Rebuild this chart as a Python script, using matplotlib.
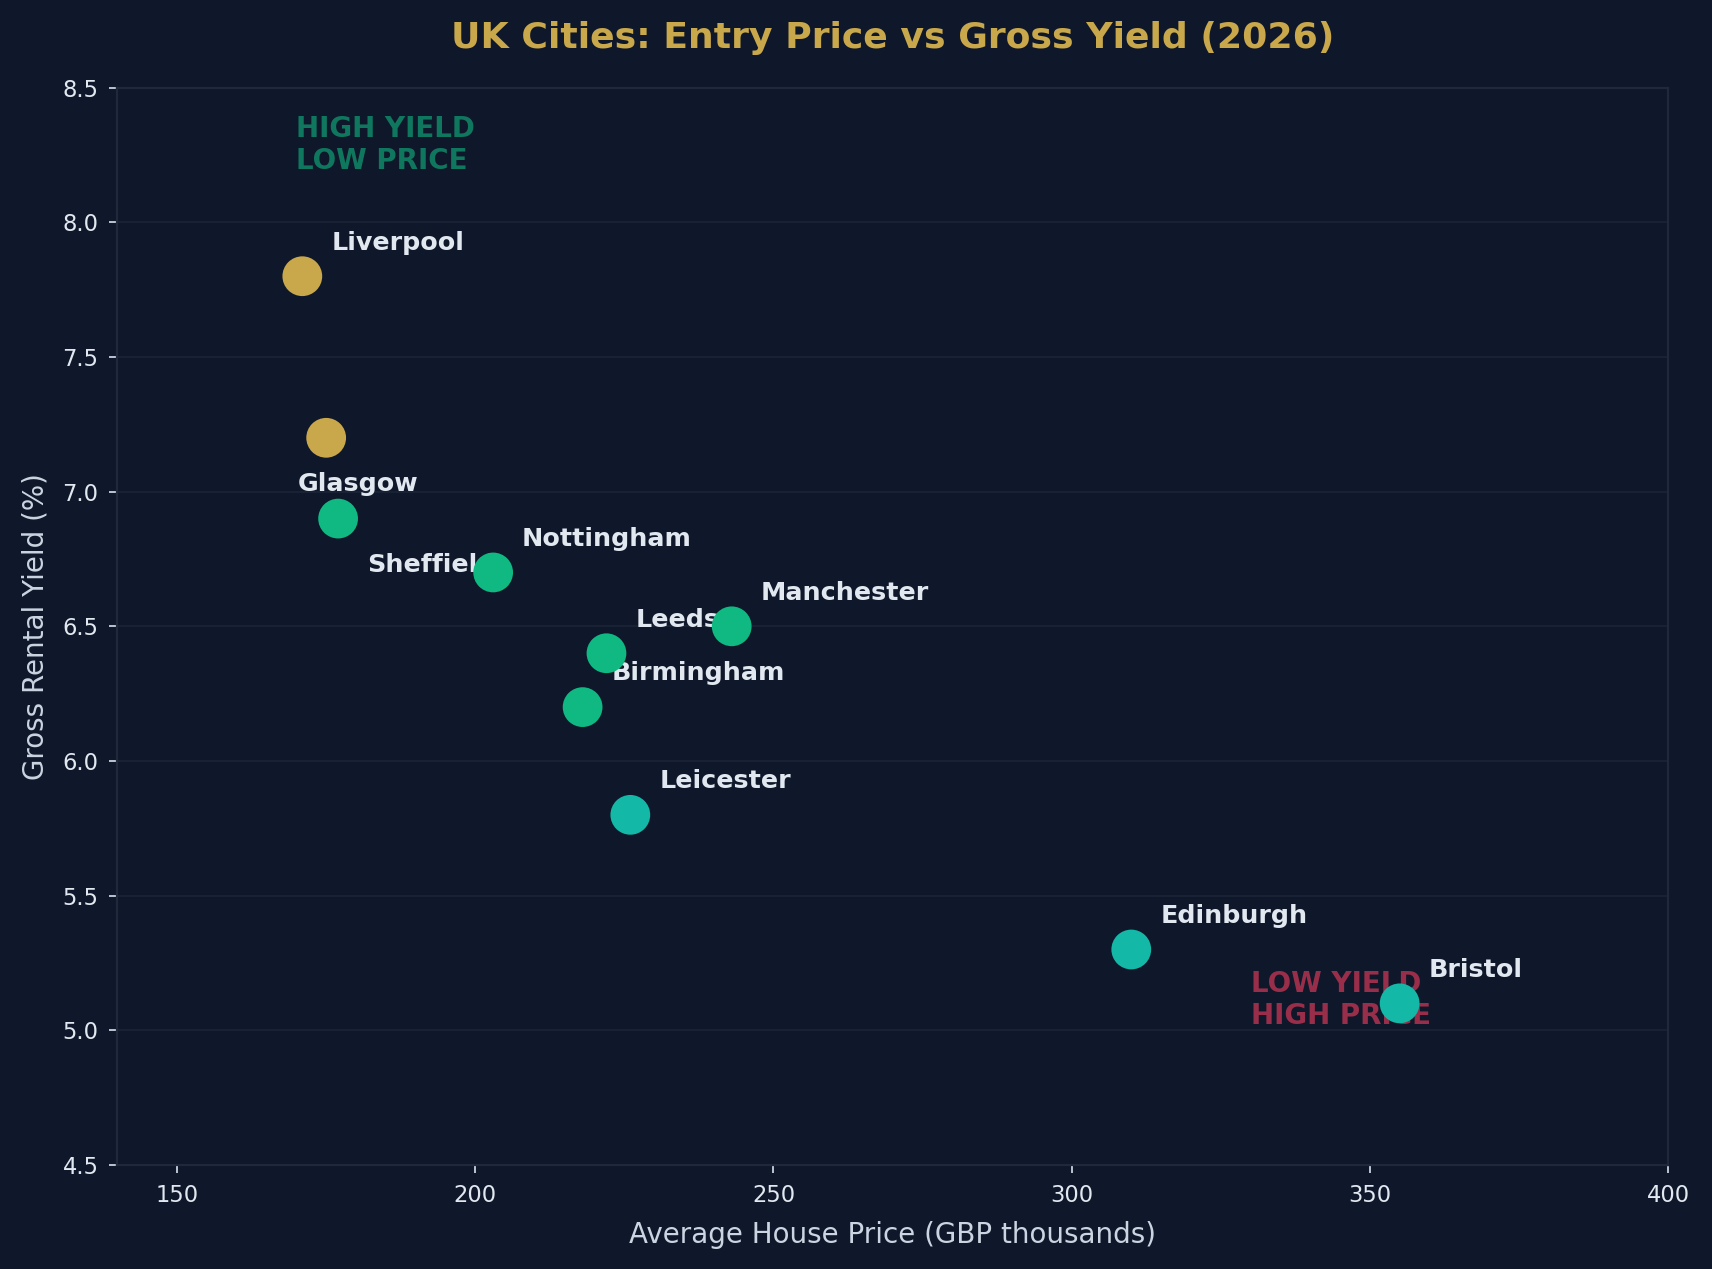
import matplotlib
matplotlib.use("Agg")
import matplotlib.pyplot as plt

BG = "#0f172a"
GOLD = "#c9a84c"
GREEN = "#10b981"
TEAL = "#14b8a6"
TEXT = "#e2e8f0"
GRID = "#1e293b"

cities = ["Liverpool", "Glasgow", "Sheffield", "Nottingham", "Manchester",
          "Leeds", "Birmingham", "Leicester", "Edinburgh", "Bristol"]
prices = [171, 175, 177, 203, 243, 222, 218, 226, 310, 355]   # GBP thousands
yields = [7.8, 7.2, 6.9, 6.7, 6.5, 6.4, 6.2, 5.8, 5.3, 5.1]    # gross %
# label offsets in points
offsets = [(13, 12), (-13, -24), (13, -24), (13, 12), (13, 12),
           (13, 12), (13, 12), (13, 12), (13, 12), (13, 12)]


def yield_colour(y):
    if y >= 7.0:
        return GOLD
    if y >= 6.0:
        return GREEN
    return TEAL


colours = [yield_colour(y) for y in yields]

fig, ax = plt.subplots(figsize=(10.7, 7.93125), dpi=160)
fig.patch.set_facecolor(BG)
ax.set_facecolor(BG)
fig.subplots_adjust(left=0.0686, right=0.9743, top=0.9309, bottom=0.082)

ax.scatter(prices, yields, s=320, c=colours, edgecolors="none", zorder=4)

for name, x, y, off in zip(cities, prices, yields, offsets):
    ax.annotate(name, (x, y), xytext=off, textcoords="offset points",
                color=TEXT, fontsize=11.4, fontweight="bold", zorder=3)

ax.text(170, 8.4, "HIGH YIELD\nLOW PRICE", color=GREEN, alpha=0.6,
        fontsize=12.5, fontweight="bold", va="top", ha="left", zorder=2)
ax.text(330, 5.0, "LOW YIELD\nHIGH PRICE", color="#f43f5e", alpha=0.6,
        fontsize=12.5, fontweight="bold", va="bottom", ha="left", zorder=2)

ax.set_xlim(140, 400)
ax.set_ylim(4.5, 8.5)
ax.set_xticks([150, 200, 250, 300, 350, 400])
ax.set_yticks([4.5, 5.0, 5.5, 6.0, 6.5, 7.0, 7.5, 8.0, 8.5])

ax.grid(axis="y", color=GRID, linewidth=0.8, alpha=0.7)
ax.set_axisbelow(True)
for sp in ax.spines.values():
    sp.set_color("#1e293b")
    sp.set_linewidth(1.0)
ax.tick_params(colors="#cbd5e1", labelcolor=TEXT, labelsize=10.2, pad=5)

ax.set_xlabel("Average House Price (GBP thousands)", color="#cbd5e1",
              fontsize=12.5, labelpad=6.5)
ax.set_ylabel("Gross Rental Yield (%)", color="#cbd5e1", fontsize=12.5,
              labelpad=6)
ax.set_title("UK Cities: Entry Price vs Gross Yield (2026)", color=GOLD,
             fontsize=16.3, fontweight="bold", pad=18)

fig.savefig("out.png", dpi=160, facecolor=BG)
